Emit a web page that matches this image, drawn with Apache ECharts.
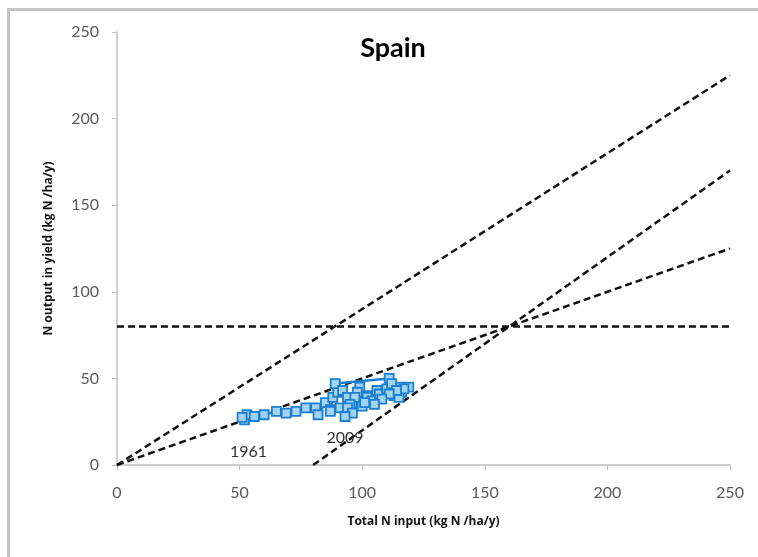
<!DOCTYPE html>
<html>
<head>
<meta charset="utf-8">
<script src="https://cdn.jsdelivr.net/npm/echarts@6/dist/echarts.min.js"></script>
<style>
  html, body { margin: 0; padding: 0; background: #fff; }
  #frame {
    position: absolute; left: 7px; top: 8px; width: 751px; height: 549px;
    border-top: 3px solid #c4c4c4; border-left: 3px solid #c4c4c4;
  }
  #chart { position: absolute; left: 0; top: 0; width: 758px; height: 557px; }
</style>
</head>
<body>
<div id="frame"></div>
<div id="chart"></div>
<script>
// Spain, 1961 - 2009
const years = [];
for (let y = 1961; y <= 2009; y++) years.push(y);
const nInput = [52, 53, 51, 56, 60, 65, 69, 73, 77, 81, 82, 85, 87, 88, 90, 89,
  111, 115, 119, 113, 109, 106, 102, 99, 98, 96, 92, 94, 100, 102, 104, 107, 110,
  112, 116, 115, 117, 114, 111, 108, 105, 101, 97, 95, 91, 87, 94, 96, 93];
const nOutput = [26, 29, 27.5, 28, 29, 31, 30, 31, 33, 33, 29, 36, 32, 39, 42, 47,
  50, 45, 45, 40, 43, 43, 40, 45, 42, 36, 43, 39, 34, 39, 37, 41, 44,
  47, 42, 39, 44, 43, 41, 38, 35, 36, 39, 35, 33, 31, 33, 30, 28];

// reference lines: [x0, y0, x1, y1]
const nueLine90 = [0, 0, 250, 225];
const nueLine50 = [0, 0, 250, 125];
const surplusLine = [80, 0, 250, 170];
const yieldLine = [0, 80, 250, 80];

const chart = echarts.init(document.getElementById('chart'));
const font = 'Lato, "Open Sans", sans-serif';
const boldFont = '"Open Sans", Lato, sans-serif';

function dashed (name, seg) {
  return {
    name: name,
    type: 'line',
    silent: true,
    symbol: 'none',
    data: [[seg[0], seg[1]], [seg[2], seg[3]]],
    lineStyle: { color: '#111', width: 2.5, type: [7, 4] },
    z: 1
  };
}

const pts = nInput.map((x, i) => {
  const item = { value: [x, nOutput[i]] };
  if (i === 0) {
    item.label = { show: true, formatter: String(years[i]), position: 'bottom', distance: 18, offset: [4, 0] };
  }
  if (i === years.length - 1) {
    item.label = { show: true, formatter: String(years[i]), position: 'bottom', distance: 8 };
  }
  return item;
});

chart.setOption({
  animation: false,
  title: {
    text: 'Spain',
    left: 388,
    top: 30,
    textAlign: 'center',
    textStyle: { fontFamily: font, fontSize: 27, fontWeight: 'bold', color: '#000' }
  },
  grid: { left: 117, right: 28, top: 32, bottom: 92 },
  xAxis: {
    type: 'value',
    min: 0, max: 250, interval: 50,
    name: 'Total N input (kg N /ha/y)',
    nameLocation: 'middle',
    nameGap: 51,
    nameTextStyle: { fontFamily: boldFont, fontSize: 12, fontWeight: 'bold', color: '#111' },
    axisLine: { show: true, lineStyle: { color: '#bfbfbf', width: 1.5 } },
    axisTick: { show: true, length: 5, lineStyle: { color: '#bfbfbf' } },
    axisLabel: { fontFamily: font, fontSize: 16, color: '#595959', margin: 20 },
    splitLine: { show: false }
  },
  yAxis: {
    type: 'value',
    min: 0, max: 250, interval: 50,
    name: 'N output in yield (kg N /ha/y)',
    nameLocation: 'middle',
    nameGap: 62,
    nameTextStyle: { fontFamily: boldFont, fontSize: 12, fontWeight: 'bold', color: '#111' },
    axisLine: { show: true, lineStyle: { color: '#bfbfbf', width: 1.5 } },
    axisTick: { show: true, length: 5, lineStyle: { color: '#bfbfbf' } },
    axisLabel: { fontFamily: font, fontSize: 16, color: '#595959', margin: 18 },
    splitLine: { show: false }
  },
  series: [
    dashed('NUE 90%', nueLine90),
    dashed('NUE 50%', nueLine50),
    dashed('Surplus 80', surplusLine),
    dashed('Yield 80', yieldLine),
    {
      name: 'Spain',
      type: 'line',
      data: pts,
      symbol: 'rect',
      symbolSize: 9,
      lineStyle: { color: '#1a7fd0', width: 2.5 },
      itemStyle: { color: '#a3d3f0', borderColor: '#1a7fd0', borderWidth: 1.8 },
      label: { fontFamily: font, fontSize: 16, color: '#333' },
      z: 3
    }
  ]
});
</script>
</body>
</html>
